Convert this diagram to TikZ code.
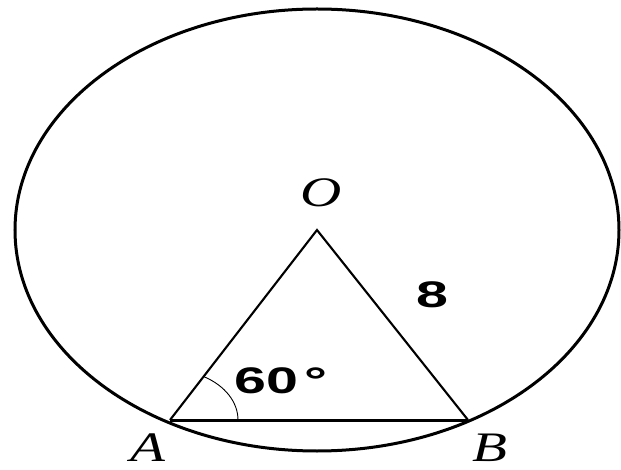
\documentclass[tikz,border=0pt]{standalone}
\usepackage{fontspec}
\setmainfont{Liberation Serif}
\newfontfamily\digitfont{Liberation Sans}
\begin{document}
\begin{tikzpicture}[x=1pt,y=1pt,
  thick line/.style={line width=3pt},
  side line/.style={line width=2.1pt},
  ptlabel/.style={inner sep=0pt,font=\fontsize{42}{42}\selectfont\itshape},
  numlabel/.style={inner sep=0pt,font=\fontsize{37}{37}\selectfont\digitfont\bfseries}]
\useasboundingbox (0,0) rectangle (621,469);
\coordinate (O) at (317,239);
\coordinate (A) at (170,49);
\coordinate (B) at (468,49);
\draw[thick line] (O) ellipse [x radius=302, y radius=221];
\draw[side line,line join=miter] (A) -- (O) -- (B);
\draw[thick line] (A) -- (B);
\draw[line width=0.9pt] ([xshift=68pt]A) arc [start angle=0, end angle=60, x radius=68, y radius=50];
\node[ptlabel,anchor=base] (lO) at (321,262) {\scalebox{1.36}[1]{O}};
\node[ptlabel,anchor=base] (lA) at (148,8) {\scalebox{1.36}[1]{A}};
\node[ptlabel,anchor=base] (lB) at (490,8) {\scalebox{1.36}[1]{B}};
\node[numlabel,anchor=base west] (l8) at (416,161) {\scalebox{1.55}[1]{8}};
\node[numlabel,anchor=base west] (l60) at (234,76) {\scalebox{1.55}[1]{60\hspace{4pt}°}};
\end{tikzpicture}
\end{document}
